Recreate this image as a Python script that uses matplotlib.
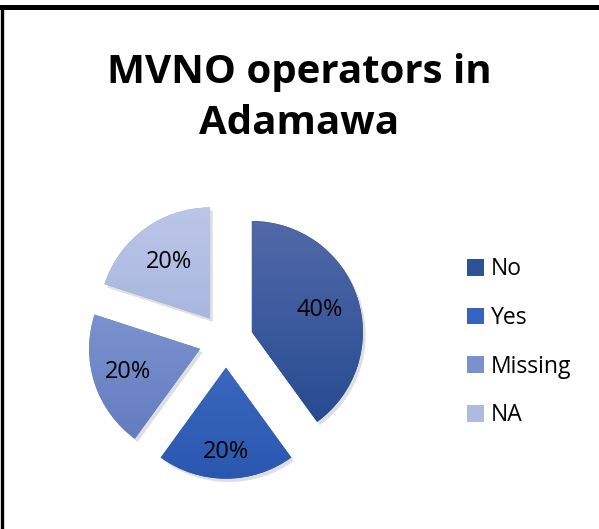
import numpy as np
import matplotlib
matplotlib.use('Agg')
import matplotlib.pyplot as plt
from matplotlib.patches import Rectangle, Wedge
from matplotlib.colors import LinearSegmentedColormap

############################################################################
#                    Data:                                                 #
############################################################################
Categories = ['No', 'Yes', 'Missing', 'NA']
Shares     = [40, 20, 20, 20]
Title      = 'MVNO operators in\nAdamawa'

#top / bottom colour of each slice gradient
Top_Colors    = ['#5169a8', '#4b76c9', '#8a9fd8', '#bcc6e8']
Bottom_Colors = ['#22488f', '#2a57b0', '#5f79bd', '#96a7d5']
Legend_Colors = ['#2f5195', '#3563be', '#7a90cf', '#adbbe2']

Pct_Dist = [0.64, 0.76, 0.68, 0.63]
Explode  = 0.245
############################################################################

plt.rcParams['font.family'] = ['Open Sans', 'DejaVu Sans']

fig = plt.figure(figsize=(5.99, 5.29), dpi=100)
fig.patch.set_facecolor('white')

ax = fig.add_axes([0.0993, 0.0416, 0.556, 0.6295])

wedges, _ = ax.pie(Shares, startangle=90, counterclock=False,
                   explode=[Explode]*len(Shares),
                   colors=Bottom_Colors,
                   wedgeprops=dict(linewidth=0))

#gradient fill + faint shadow for every wedge
for w, c_top, c_bot in zip(wedges, Top_Colors, Bottom_Colors):
    cx, cy = w.center
    sh = Wedge((cx + 0.025, cy - 0.03), w.r, w.theta1, w.theta2,
               facecolor='#808080', alpha=0.25, linewidth=0, zorder=0)
    ax.add_patch(sh)
    cmap = LinearSegmentedColormap.from_list('g', [c_bot, c_top])
    grad = np.linspace(0, 1, 256).reshape(-1, 1)
    im = ax.imshow(grad, cmap=cmap, origin='lower', aspect='auto',
                   extent=[cx - 1, cx + 1, cy - 1, cy + 1], zorder=2)
    im.set_clip_path(w)
    w.set_zorder(1)

#percentage labels
for w, s, d in zip(wedges, Shares, Pct_Dist):
    cx, cy = w.center
    mid = np.deg2rad((w.theta1 + w.theta2) / 2)
    ax.text(cx + d*np.cos(mid), cy + d*np.sin(mid), '%d%%' % s,
            ha='center', va='center', fontsize=17, color='black', zorder=3)

ax.set_xlim(-1.5, 1.5)
ax.set_ylim(-1.5, 1.5)
ax.set_aspect('equal')
ax.axis('off')

#legend
handles = [Rectangle((0, 0), 1, 1, facecolor=c, edgecolor='none') for c in Legend_Colors]
fig.legend(handles, Categories, loc='center left', bbox_to_anchor=(0.764, 0.353),
           frameon=False, fontsize=16.5, handlelength=0.75, handleheight=0.75,
           handletextpad=0.3, labelspacing=1.08, borderaxespad=0)

fig.text(0.5, 0.815, Title, ha='center', va='center', fontsize=29,
         fontweight='bold', linespacing=1.42)

#chart border (top and left only, the rest is cut off)
fig.add_artist(plt.Line2D([0, 1], [1 - 6.5/529]*2, color='black', lw=3.6,
                          transform=fig.transFigure))
fig.add_artist(plt.Line2D([1.5/599]*2, [0, 1 - 6.5/529], color='black', lw=2.4,
                          transform=fig.transFigure))

plt.savefig('out.png', dpi=100)
plt.close()
